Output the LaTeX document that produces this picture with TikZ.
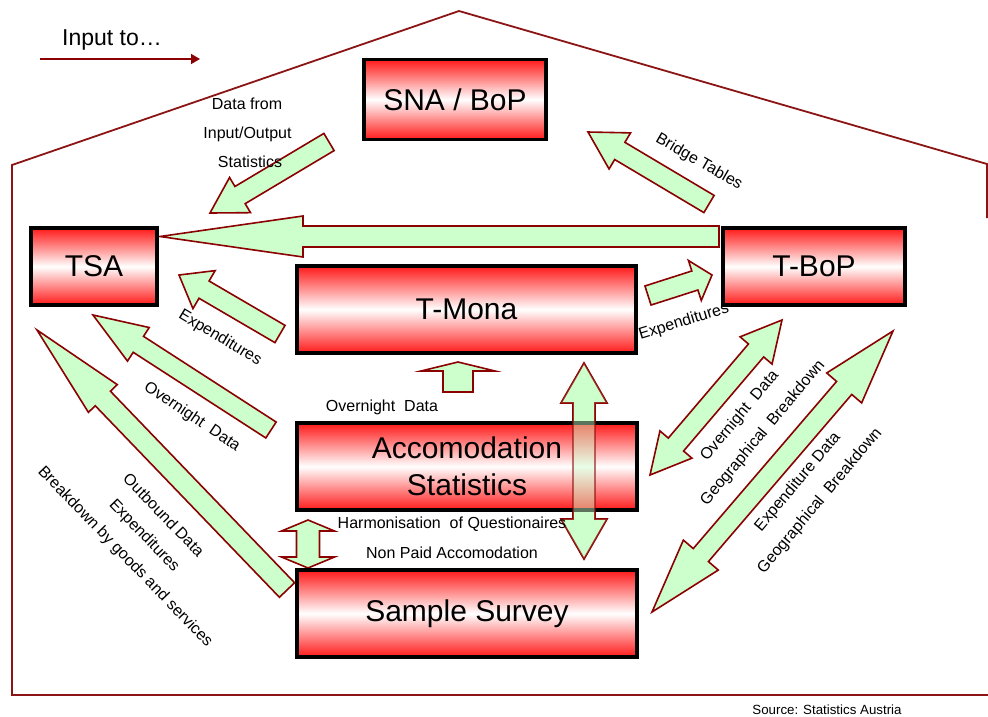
\documentclass[tikz,border=0pt]{standalone}
\usepackage{fontspec}
\setmainfont{Liberation Sans}
\usetikzlibrary{calc,arrows.meta}
\definecolor{houseline}{RGB}{139,20,20}
\definecolor{arrowline}{RGB}{139,0,0}
\definecolor{arrowfill}{RGB}{204,255,204}
\definecolor{boxred}{RGB}{255,25,25}
% single block arrow: [opts]{tail}{tip}{half shaft}{half head}{head length}
\newcommand{\BArrow}[6][]{%
  \path ($(#3)!#6!(#2)$) coordinate (bh);
  \draw[blockarrow,#1] ($(#2)!#4!90:(#3)$) -- ($(bh)!#4!90:(#3)$) -- ($(bh)!#5!90:(#3)$) -- (#3)
    -- ($(bh)!#5!-90:(#3)$) -- ($(bh)!#4!-90:(#3)$) -- ($(#2)!#4!-90:(#3)$) -- cycle;}
% double block arrow: [opts]{end A}{end B}{half shaft}{half head}{head length}
\newcommand{\DArrow}[6][]{%
  \path ($(#2)!#6!(#3)$) coordinate (ha) ($(#3)!#6!(#2)$) coordinate (hb);
  \draw[blockarrow,#1] (#2) -- ($(ha)!#5!90:(#3)$) -- ($(ha)!#4!90:(#3)$) -- ($(hb)!#4!-90:(#2)$)
    -- ($(hb)!#5!-90:(#2)$) -- (#3) -- ($(hb)!#5!90:(#2)$) -- ($(hb)!#4!90:(#2)$)
    -- ($(ha)!#4!-90:(#3)$) -- ($(ha)!#5!-90:(#3)$) -- cycle;}
\begin{document}
\begin{tikzpicture}[x=1pt,y=-1pt,
  blockarrow/.style={draw=arrowline, fill=arrowfill, line width=1.6pt, line join=miter},
  box/.style={draw=black, line width=3.5pt, top color=boxred, bottom color=boxred, middle color=white,
    font=\fontsize{30}{37}\selectfont, align=center, inner sep=0pt},
  lbl/.style={font=\fontsize{16}{18}\selectfont, inner sep=0pt},
  house/.style={draw=houseline, line width=1.8pt, line join=miter},
]
\useasboundingbox[fill=white] (0,0) rectangle (988,716);

% house outline
\coordinate (hbl) at (12,695);
\coordinate (hwl) at (12,165);
\coordinate (apex) at (459,11);
\coordinate (hwr) at (987,164);
\coordinate (hwrend) at (987,218);
\coordinate (hbr) at (988,695);
\draw[house] (hbr) -- (hbl) -- (hwl) -- (apex) -- (hwr) -- (hwrend);

% legend
\node[font=\fontsize{23}{26}\selectfont, inner sep=0pt] (legend) at (112,40) {Input to…};
\coordinate (lgA) at (40,59);
\coordinate (lgB) at (200,59);
\draw[draw=arrowline, line width=1.6pt, -{Triangle[length=9pt,width=10pt]}] (lgA) -- (lgB);

% arrow end coordinates
\coordinate (ioT) at (329,142);   \coordinate (ioP) at (210,213);
\coordinate (brT) at (709,204);   \coordinate (brP) at (588,132);
\coordinate (bgT) at (719,236.5); \coordinate (bgP) at (160,236.5);
\coordinate (mbT) at (648,295.5); \coordinate (mbP) at (712,275);
\coordinate (mtT) at (280,334);   \coordinate (mtP) at (179,275);
\coordinate (atT) at (271,430);   \coordinate (atP) at (93,315);
\coordinate (stT) at (287,590);   \coordinate (stP) at (37,330);
\coordinate (amT) at (458,392);   \coordinate (amP) at (458,362);
\coordinate (vA) at (584,363);    \coordinate (vB) at (584,559);
\coordinate (hsA) at (308,520);   \coordinate (hsB) at (308,568);
\coordinate (odA) at (782,320);   \coordinate (odB) at (650,475);
\coordinate (edA) at (893,331);   \coordinate (edB) at (652,612);

% block arrows
\BArrow{ioT}{ioP}{10pt}{20.5pt}{35pt}
\BArrow{brT}{brP}{10pt}{21pt}{37pt}
\BArrow{bgT}{bgP}{10.5pt}{20.5pt}{143pt}
\BArrow{mbT}{mbP}{10pt}{21pt}{18pt}
\BArrow{mtT}{mtP}{10pt}{22pt}{29pt}
\BArrow{atT}{atP}{9.5pt}{20pt}{54pt}
\BArrow{stT}{stP}{10.5pt}{20pt}{95pt}
\BArrow{amT}{amP}{15pt}{37pt}{9pt}
\DArrow{vA}{vB}{11pt}{23pt}{40pt}
\DArrow{hsA}{hsB}{11.5pt}{26.5pt}{11pt}
\DArrow{odA}{odB}{10pt}{21pt}{40pt}
\DArrow{edA}{edB}{10pt}{23pt}{75pt}

% boxes
\node[box, minimum width=182pt, minimum height=80pt] (sna) at (455,99.5) {SNA / BoP};
\node[box, minimum width=126pt, minimum height=77pt] (tsa) at (94,266.5) {TSA};
\node[box, minimum width=182pt, minimum height=77pt] (tbop) at (814,266.5) {T-BoP};
\node[box, minimum width=339pt, minimum height=87pt] (tmona) at (466.5,309.5) {T-Mona};
\node[box, minimum width=340pt, minimum height=87pt] (accom) at (467,466.5) {Accomodation\\Statistics};
\node[box, minimum width=340pt, minimum height=87pt] (survey) at (467,613.5) {Sample Survey};

% semi-transparent copy of the arrow crossing the accommodation box
\DArrow[fill opacity=0.45, draw opacity=0.55]{vA}{vB}{11pt}{23pt}{40pt}

% labels
\node[lbl] (l1) at (247,104) {Data from};
\node[lbl] (l2) at (247.5,134) {Input/Output};
\node[lbl] (l3) at (250,162) {Statistics};
\node[lbl, rotate=-30] (l4) at (699,162) {Bridge Tables};
\node[lbl, rotate=17] (l5) at (684,322) {Expenditures};
\node[lbl, rotate=-31] (l6) at (220,338) {Expenditures};
\node[lbl, rotate=-34] (l7) at (192,417) {Overnight\ \ Data};
\node[lbl, rotate=-46] (l8) at (164,515) {Outbound Data};
\node[lbl, rotate=-46] (l9) at (144,536) {Expenditures};
\node[lbl, rotate=-46] (l10) at (125,557) {Breakdown by goods and services};
\node[lbl] (l11) at (382,407) {Overnight\ \ Data};
\node[lbl] (l12) at (452,524) {Harmonisation\ \ of Questionaires};
\node[lbl] (l13) at (452,553) {Non Paid Accomodation};
\node[lbl, rotate=50] (l14) at (740,416) {Overnight\ \ Data};
\node[lbl, rotate=50] (l15) at (763,433) {Geographical\ \ Breakdown};
\node[lbl, rotate=50] (l16) at (798,482) {Expenditure Data};
\node[lbl, rotate=50] (l17) at (820,501) {Geographical\ \ Breakdown};
\node[font=\fontsize{13.3}{15}\selectfont, inner sep=0pt] (src) at (827,710) {Source: Statistics Austria};
\end{tikzpicture}
\end{document}
